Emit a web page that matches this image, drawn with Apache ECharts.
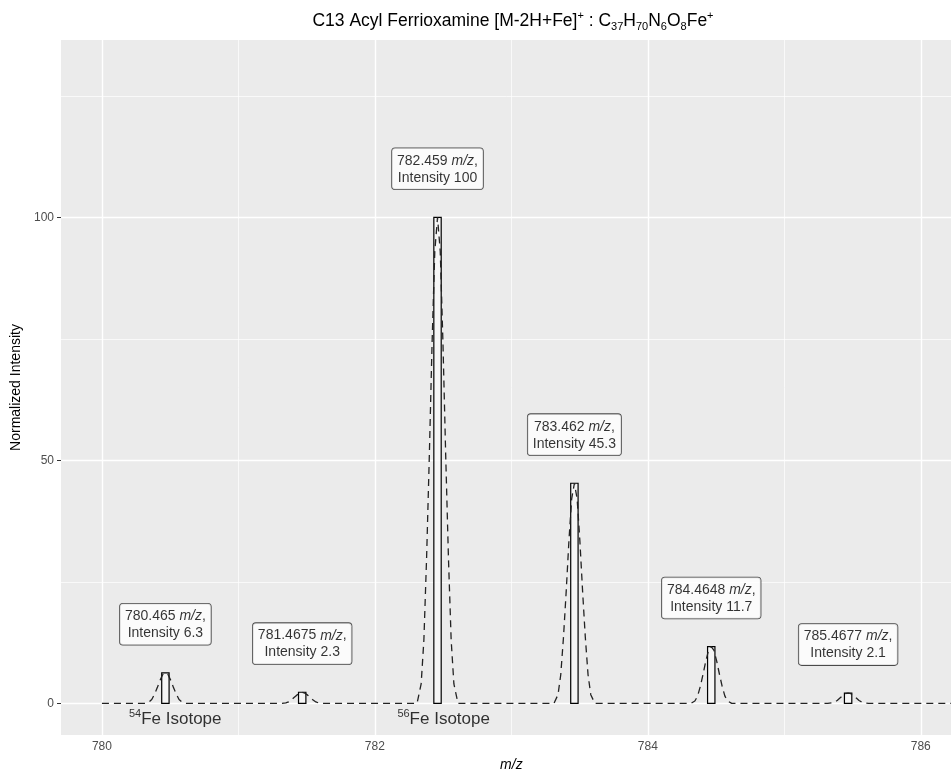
<!DOCTYPE html>
<html lang="en">
<head>
  <meta charset="UTF-8">
  <title>C13 Acyl Ferrioxamine</title>
  <script src="https://cdn.jsdelivr.net/npm/echarts@6/dist/echarts.min.js"></script>
</head>
<body style="margin: 0;">
<div id="main" style="width: 951px; height: 771px;"></div>
<script type="text/javascript">
  // centroid peaks (m/z, normalized intensity)
  const peakMz = [780.465, 781.4675, 782.459, 783.462, 784.4648, 785.4677]
  const peakMzText = ['780.465', '781.4675', '782.459', '783.462', '784.4648', '785.4677']
  const peakIntensity = [6.3, 2.3, 100, 45.3, 11.7, 2.1]

  // dashed profile
  const profileMz = [
    780.0,
    780.315, 780.345, 780.365, 780.385, 780.405, 780.425, 780.445, 780.465, 780.485, 780.505, 780.525, 780.545, 780.565, 780.585, 780.615,
    781.3175, 781.3475, 781.3675, 781.3875, 781.4075, 781.4275, 781.4475, 781.4675, 781.4875, 781.5075, 781.5275, 781.5475, 781.5675, 781.5875, 781.6175,
    782.309, 782.339, 782.359, 782.379, 782.399, 782.419, 782.439, 782.459, 782.479, 782.499, 782.519, 782.539, 782.559, 782.579, 782.609,
    783.312, 783.342, 783.362, 783.382, 783.402, 783.422, 783.442, 783.462, 783.482, 783.502, 783.522, 783.542, 783.562, 783.582, 783.612,
    784.3148, 784.3448, 784.3648, 784.3848, 784.4048, 784.4248, 784.4448, 784.4648, 784.4848, 784.5048, 784.5248, 784.5448, 784.5648, 784.5848, 784.6148,
    785.3177, 785.3477, 785.3677, 785.3877, 785.4077, 785.4277, 785.4477, 785.4677, 785.4877, 785.5077, 785.5277, 785.5477, 785.5677, 785.5877, 785.6177,
    786.3
  ]
  const profileIntensity = [
    0,
    0, 0.3, 0.8, 1.9, 3.2, 4.7, 5.9, 6.3, 5.9, 4.7, 3.2, 1.9, 0.8, 0.3, 0,
    0, 0.1, 0.3, 0.7, 1.2, 1.7, 2.1, 2.3, 2.1, 1.7, 1.2, 0.7, 0.3, 0.1, 0,
    0, 4, 13, 30, 51, 74, 93, 100, 93, 74, 51, 30, 13, 4, 0,
    0, 1.8, 5.9, 13.6, 23.1, 33.5, 42.1, 45.3, 42.1, 33.5, 23.1, 13.6, 5.9, 1.8, 0,
    0, 0.5, 1.5, 3.5, 6.0, 8.7, 10.9, 11.7, 10.9, 8.7, 6.0, 3.5, 1.5, 0.5, 0,
    0, 0.1, 0.3, 0.6, 1.1, 1.6, 2.0, 2.1, 2.0, 1.6, 1.1, 0.6, 0.3, 0.1, 0,
    0
  ]

  // isotope annotations
  const isotopeMass = ['54', '56']
  const isotopeMz = [780.537, 782.504]
  const isotopeY = [-3.3, -3.3]

  const xTicks = [780, 782, 784, 786]
  const xMinor = [781, 783, 785]
  const yTicks = [0, 50, 100]
  const yMinor = [25, 75, 125]

  const FONT = '"Liberation Sans", Arial, Helvetica, sans-serif'
  const LABEL_OFFSET = 10   // label centre sits this far above the bar
  const BAR_HALF = 0.027

  const myChart = echarts.init(document.getElementById('main'))

  const gridLines = []
  xTicks.forEach(v => gridLines.push({xAxis: v, lineStyle: {width: 1.4}}))
  yTicks.forEach(v => gridLines.push({yAxis: v, lineStyle: {width: 1.4}}))
  xMinor.forEach(v => gridLines.push({xAxis: v, lineStyle: {width: 0.7}}))
  yMinor.forEach(v => gridLines.push({yAxis: v, lineStyle: {width: 0.7}}))

  const rectData = peakMz.map((m, i) => [m, peakIntensity[i]])
  const labelData = peakMz.map((m, i) => ({
    value: [m, peakIntensity[i] + LABEL_OFFSET],
    name: peakMzText[i] + '|' + peakIntensity[i]
  }))
  const profileData = profileMz.map((m, i) => [m, profileIntensity[i]])
  const isoData = isotopeMz.map((m, i) => ({value: [m, isotopeY[i]], name: isotopeMass[i]}))

  const option = {
    animation: false,
    textStyle: {fontFamily: FONT},
    title: {
      text: '{n|C13 Acyl Ferrioxamine [M-2H+Fe]}{sup|+}{n| : C}{sub|37}{n|H}{sub|70}{n|N}{sub|6}{n|O}{sub|8}{n|Fe}{sup|+}',
      left: 508,
      top: 5,
      textAlign: 'center',
      textStyle: {
        fontWeight: 'normal',
        rich: {
          n: {fontFamily: FONT, fontSize: 17.5, fontWeight: 'normal', color: '#000', lineHeight: 22},
          sup: {fontFamily: FONT, fontSize: 11, fontWeight: 'normal', color: '#000', lineHeight: 12, verticalAlign: 'top'},
          sub: {fontFamily: FONT, fontSize: 11, fontWeight: 'normal', color: '#000', lineHeight: 12, verticalAlign: 'bottom'}
        }
      }
    },
    grid: {
      left: 61,
      top: 40,
      right: -10.7,
      bottom: 36,
      outerBoundsMode: 'none',
      containLabel: false,
      show: true,
      backgroundColor: '#EBEBEB',
      borderWidth: 0
    },
    xAxis: {
      type: 'value',
      min: 779.7,
      max: 786.3,
      name: 'm/z',
      nameLocation: 'middle',
      nameGap: 20,
      nameTextStyle: {fontFamily: FONT, fontSize: 14, fontStyle: 'italic', color: '#000'},
      axisLine: {show: false},
      axisTick: {show: true, customValues: xTicks, length: 4, lineStyle: {color: '#333', width: 1}},
      axisLabel: {customValues: xTicks, color: '#4D4D4D', fontSize: 12, margin: 6, fontFamily: FONT},
      splitLine: {show: false}
    },
    yAxis: {
      type: 'value',
      min: -6.5,
      max: 136.5,
      name: 'Normalized Intensity',
      nameLocation: 'middle',
      nameGap: 34,
      nameTextStyle: {fontFamily: FONT, fontSize: 14, color: '#000'},
      axisLine: {show: false},
      axisTick: {show: true, customValues: yTicks, length: 4, lineStyle: {color: '#333', width: 1}},
      axisLabel: {customValues: yTicks, color: '#4D4D4D', fontSize: 12, margin: 7, fontFamily: FONT},
      splitLine: {show: false}
    },
    series: [
      {
        // panel grid
        type: 'line',
        data: [],
        z: 1,
        silent: true,
        markLine: {
          z: 1,
          silent: true,
          symbol: 'none',
          label: {show: false},
          lineStyle: {color: '#FFFFFF', type: 'solid'},
          data: gridLines
        }
      },
      {
        type: 'custom',
        z: 3,
        data: rectData,
        renderItem: (params, api) => {
          const m = api.value(0)
          const p0 = api.coord([m - BAR_HALF, 0])
          const p1 = api.coord([m + BAR_HALF, api.value(1)])
          return {
            type: 'rect',
            shape: {x: p0[0], y: p1[1], width: p1[0] - p0[0], height: p0[1] - p1[1]},
            style: {fill: 'rgba(250,250,250,0.75)', stroke: '#000', lineWidth: 1.2}
          }
        }
      },
      {
        type: 'line',
        z: 4,
        data: profileData,
        symbol: 'none',
        lineStyle: {color: '#222', width: 1.3, type: [7, 5]}
      },
      {
        type: 'scatter',
        z: 5,
        data: labelData,
        symbolSize: 0,
        label: {
          show: true,
          position: 'inside',
          backgroundColor: '#FFFFFF',
          borderColor: '#222',
          borderWidth: 0.8,
          borderRadius: 3,
          padding: [4, 5, 3, 5],
          formatter: p => {
            const parts = p.name.split('|')
            return '{a|' + parts[0] + ' }{i|m/z}{a|,}\n{a|Intensity ' + parts[1] + '}'
          },
          rich: {
            a: {fontFamily: FONT, fontSize: 14, color: '#000', lineHeight: 17, align: 'center'},
            i: {fontFamily: FONT, fontSize: 14, color: '#000', lineHeight: 17, fontStyle: 'italic', align: 'center'}
          }
        }
      },
      {
        type: 'scatter',
        z: 5,
        data: isoData,
        symbolSize: 0,
        label: {
          show: true,
          position: 'inside',
          formatter: p => '{sup|' + p.name + '}{n|Fe Isotope}',
          rich: {
            n: {fontFamily: FONT, fontSize: 17, color: '#000', lineHeight: 22},
            sup: {fontFamily: FONT, fontSize: 11, color: '#000', lineHeight: 13, verticalAlign: 'top'}
          }
        }
      }
    ]
  }

  myChart.setOption(option)
</script>
</body>
</html>
